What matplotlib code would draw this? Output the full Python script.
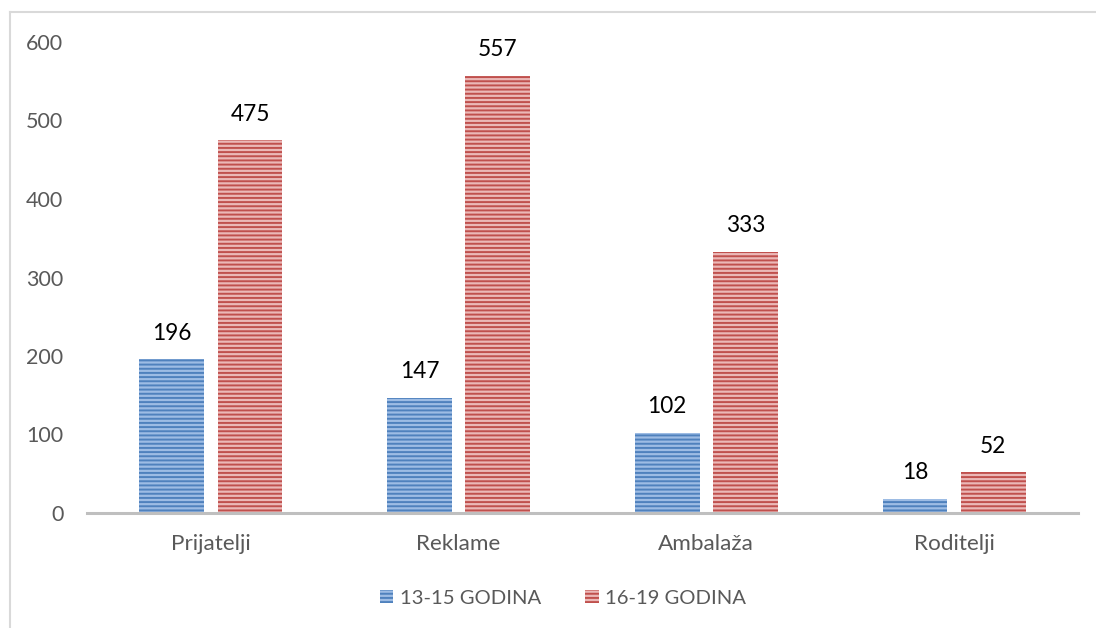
import matplotlib
matplotlib.use("Agg")
import numpy as np
import matplotlib.pyplot as plt
from matplotlib.patches import Patch
from matplotlib.lines import Line2D

# --- data ---
categories = ['Prijatelji', 'Reklame', 'Ambalaža', 'Roditelji']
series_names = ['13-15 GODINA', '16-19 GODINA']
vals_13_15 = [196, 147, 102, 18]
vals_16_19 = [475, 557, 333, 52]

plt.rcParams['font.family'] = ['Lato', 'DejaVu Sans']
plt.rcParams['hatch.linewidth'] = 1.4

blue_face, blue_hatch = '#9DBCE4', '#4F81BD'
red_face, red_hatch = '#EBB8B7', '#C0504D'
txt_gray = '#595959'

fig = plt.figure(figsize=(10.96, 6.28), dpi=100)
ax = fig.add_axes([87 / 1096, 1 - 513 / 628, (1078 - 87) / 1096, (513 - 42) / 628])

x = np.arange(len(categories))
w = 0.262
off = 0.158
b1 = ax.bar(x - off, vals_13_15, w, color=blue_face, edgecolor=blue_hatch,
            linewidth=0, hatch='----')
b2 = ax.bar(x + off, vals_16_19, w, color=red_face, edgecolor=red_hatch,
            linewidth=0, hatch='----')

for bars, vals in ((b1, vals_13_15), (b2, vals_16_19)):
    for r, v in zip(bars, vals):
        ax.annotate(str(v), (r.get_x() + r.get_width() / 2, v),
                    xytext=(0, 14), textcoords='offset points',
                    ha='center', va='baseline', fontsize=16.3, color='black')

ax.set_xlim(-0.5, len(categories) - 0.5)
ax.set_ylim(0, 600)
ax.set_yticks(np.arange(0, 601, 100))
ax.set_xticks(x)
ax.set_xticklabels(categories)
ax.tick_params(axis='both', length=0, labelsize=15.5, colors=txt_gray)
ax.tick_params(axis='y', pad=17)
ax.tick_params(axis='x', pad=15)
ax.tick_params(axis='x', labelsize=16.2)
for s in ['top', 'right', 'left']:
    ax.spines[s].set_visible(False)
ax.spines['bottom'].set_color('#BFBFBF')
ax.spines['bottom'].set_linewidth(2.2)

handles = [Patch(facecolor=blue_face, edgecolor=blue_hatch, linewidth=0, hatch='----'),
           Patch(facecolor=red_face, edgecolor=red_hatch, linewidth=0, hatch='----')]
fig.legend(handles, series_names, loc='center', ncol=2,
           bbox_to_anchor=(563 / 1096, 1 - 598 / 628), frameon=False,
           fontsize=14.6, labelcolor=txt_gray, handlelength=0.65, handleheight=0.65,
           handletextpad=0.3, columnspacing=2.2)

# chart border
fig.add_artist(Line2D([10 / 1096, 10 / 1096], [0, 1 - 12 / 628], color='#D9D9D9',
                      linewidth=1.5, transform=fig.transFigure))
fig.add_artist(Line2D([10 / 1096, 1], [1 - 12 / 628, 1 - 12 / 628], color='#D9D9D9',
                      linewidth=1.5, transform=fig.transFigure))

fig.savefig('out.png', dpi=100)
